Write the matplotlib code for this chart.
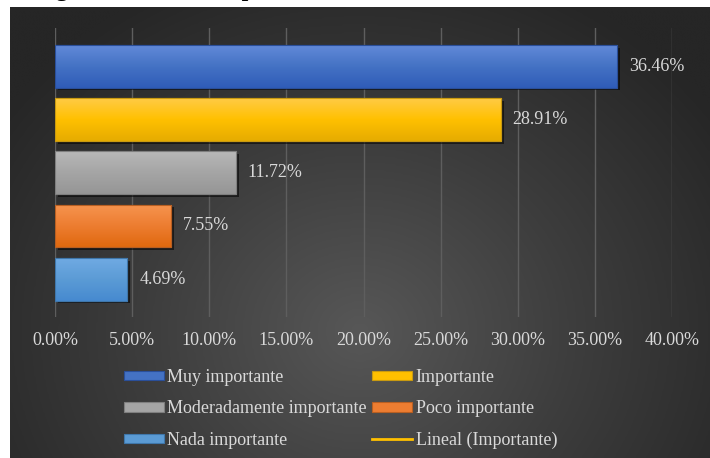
#!usr/bin/env python3

# Horizontal bar chart of the importance ratings, dark background with shaded bars

import matplotlib.pyplot as plt
import matplotlib.patheffects as pe
from matplotlib.colors import LinearSegmentedColormap
from matplotlib.lines import Line2D
from matplotlib.patches import Patch
import numpy as np

categorias = ['Muy importante', 'Importante', 'Moderadamente importante',
              'Poco importante', 'Nada importante']
porcentajes = [36.46, 28.91, 11.72, 7.55, 4.69]
etiquetas = ['36.46%', '28.91%', '11.72%', '7.55%', '4.69%']
ticks_x = [0, 5, 10, 15, 20, 25, 30, 35, 40]
ticks_labels = ['0.00%', '5.00%', '10.00%', '15.00%', '20.00%',
                '25.00%', '30.00%', '35.00%', '40.00%']
titulo = 'Figura 5 Nivel de importancia'

# (top, middle, bottom, edge) for each bar
colores = [
    ('#6189d8', '#4472c4', '#2f5cb8', '#2a4f9a'),
    ('#ffcb45', '#ffc000', '#e6ac00', '#c99a10'),
    ('#b8b8b8', '#a5a5a5', '#969696', '#7f7f7f'),
    ('#f6944f', '#ed7d31', '#e0690f', '#b85f22'),
    ('#70aae3', '#5b9bd5', '#468ad0', '#3f77ab'),
]
color_texto = '#d9d9d9'


def main():
    plt.rcParams['font.family'] = ['Liberation Serif', 'DejaVu Serif']

    fig = plt.figure(figsize=(7.1, 4.58), dpi=100)

    # dark radial background of the chart area
    bg = fig.add_axes([10 / 710, 0, 700 / 710, 451 / 458])
    yy, xx = np.mgrid[0:1:300j, 0:1:450j]
    r = np.sqrt(((xx - 0.5) / 0.62) ** 2 + ((yy - 0.72) / 0.85) ** 2)
    bg_cmap = LinearSegmentedColormap.from_list('bg', ['#575757', '#3d3d3d', '#262626'])
    bg.imshow(np.clip(r, 0, 1), cmap=bg_cmap, vmin=0, vmax=1, aspect='auto',
              extent=(0, 1, 0, 1), origin='upper', interpolation='bicubic')
    bg.set_axis_off()

    # title line of the page, only its lowest part reaches below the top edge
    fig.text(35 / 710, 1 + 4 / 458, titulo, ha='left', va='baseline',
             fontsize=17, fontweight='bold', color='black', clip_on=False)

    ax = fig.add_axes([55 / 710, 1 - 317 / 458, 617 / 710, 289 / 458])
    ax.set_facecolor('none')

    y = np.arange(len(categorias))
    bars = ax.barh(y, porcentajes, height=0.8, zorder=3, linewidth=0.8)

    for bar, (c_top, c_mid, c_bot, c_edge) in zip(bars, colores):
        bar.set_facecolor(c_mid)
        bar.set_edgecolor(c_edge)
        bar.set_path_effects([pe.SimplePatchShadow(offset=(2, -2), shadow_rgbFace='black', alpha=0.55),
                              pe.Normal()])
        cmap = LinearSegmentedColormap.from_list('g', [c_top, c_mid, c_bot])
        x0, y0 = bar.get_x(), bar.get_y()
        w, h = bar.get_width(), bar.get_height()
        grad = np.linspace(0, 1, 64).reshape(-1, 1)
        img = ax.imshow(grad, cmap=cmap, aspect='auto', origin='upper',
                        extent=(x0, x0 + w, y0 + h, y0), zorder=3.1)
        img.set_clip_path(bar)
        # thin border back on top of the shading
        ax.barh(bar.get_y() + h / 2, w, height=h, facecolor='none',
                edgecolor=c_edge, linewidth=0.8, zorder=3.2)

    for yi, val, txt in zip(y, porcentajes, etiquetas):
        ax.annotate(txt, (val, yi), xytext=(8.5, 0), textcoords='offset points',
                    ha='left', va='center', fontsize=13, color=color_texto, zorder=4)

    ax.set_xlim(0, 40)
    ax.set_ylim(4.71, -0.72)
    ax.set_xticks(ticks_x)
    ax.set_xticklabels(ticks_labels)
    ax.set_yticks([])
    ax.tick_params(axis='x', length=0, pad=11, labelsize=13, labelcolor=color_texto)
    ax.grid(axis='x', color='#5e5e5e', linewidth=1.0, zorder=1)
    ax.set_axisbelow(True)
    for s in ax.spines.values():
        s.set_visible(False)

    # legend, filled column by column
    orden = [0, 2, 4, 1, 3]
    handles = [Patch(facecolor=colores[i][1], edgecolor=colores[i][3], linewidth=0.8) for i in orden]
    labels = [categorias[i] for i in orden]
    handles.append(Line2D([], [], color=colores[1][1], linewidth=2))
    labels.append('Lineal (Importante)')

    leg = fig.legend(handles, labels, ncol=2, loc='upper left',
                     bbox_to_anchor=(124 / 710, 1 - 369 / 458), frameon=False,
                     fontsize=13, handlelength=2.2, handleheight=0.45,
                     handletextpad=0.2, columnspacing=0.3, labelspacing=0.8,
                     borderpad=0, borderaxespad=0)
    for t in leg.get_texts():
        t.set_color(color_texto)

    fig.savefig('out.png', dpi=100)


if __name__ == "__main__":
    main()
